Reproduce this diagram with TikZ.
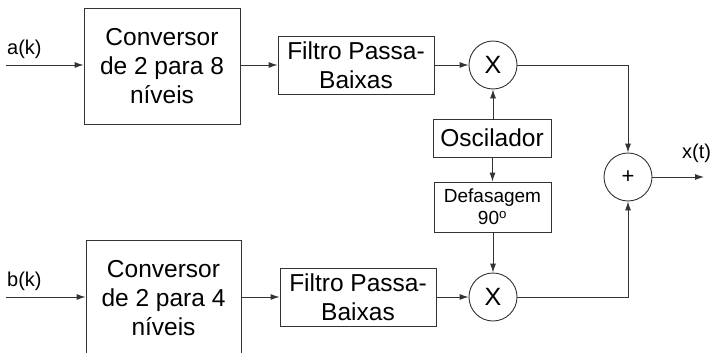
\documentclass[tikz,border=0pt]{standalone}
\usepackage{fontspec}
\setmainfont{Liberation Sans}
\usetikzlibrary{arrows.meta}
\tikzset{
  blk/.style={draw=black!80, line width=0.9pt, align=center, inner sep=0pt,
    font=\fontsize{24.5}{29}\selectfont},
  mul/.style={draw=black!80, line width=0.9pt, circle, minimum size=48pt, inner sep=0pt,
    font=\fontsize{25}{26}\selectfont},
  lbl/.style={font=\fontsize{20}{22}\selectfont, inner sep=0pt},
  conn/.style={draw=black!80, line width=0.9pt, -{Latex[length=9pt,width=6pt]}},
  wire/.style={draw=black!80, line width=0.9pt}
}
\begin{document}
\begin{tikzpicture}[x=1pt,y=-1pt]
\useasboundingbox (0,0) rectangle (717,353);
\begin{scope}
\clip (0,0) rectangle (717,353);
\node[blk, minimum width=156pt, minimum height=116pt] (conv1) at (162,66) {Conversor\\de 2 para 8\\níveis};
\node[blk, minimum width=156pt, minimum height=58pt] (filt1) at (356,65) {Filtro Passa-\\Baixas};
\node[mul] (mul1) at (493,65) {X};
\node[blk, minimum width=118pt, minimum height=38pt] (osc) at (492,138) {Oscilador};
\node[blk, minimum width=117pt, minimum height=50pt, font=\fontsize{19}{22}\selectfont] (def) at (492.5,207) {Defasagem\\90$^{\mathrm{o}}$};
\node[mul] (mul2) at (493,297) {X};
\node[blk, minimum width=156pt, minimum height=58pt] (filt2) at (358,297) {Filtro Passa-\\Baixas};
\node[blk, minimum width=155pt, minimum height=116pt] (conv2) at (163.5,298) {Conversor\\de 2 para 4\\níveis};
\node[mul, font=\fontsize{22}{24}\selectfont] (sum) at (628,177) {+};

\coordinate (ain) at (6,65);
\coordinate (bin) at (6,297);
\coordinate (xout) at (704,177);
\node[lbl, anchor=west] (alab) at (7,49) {a(k)};
\node[lbl, anchor=west] (blab) at (7,281) {b(k)};
\node[lbl, anchor=west] (xlab) at (682,153) {x(t)};

\draw[conn] (ain) -- (conv1.west |- ain);
\draw[conn] (bin) -- (conv2.west |- bin);
\draw[conn] (conv1.east |- filt1) -- (filt1.west);
\draw[conn] (conv2.east |- filt2) -- (filt2.west);
\draw[conn] (filt1.east) -- (mul1.west);
\draw[conn] (filt2.east) -- (mul2.west);
\draw[conn] (osc.north -| mul1) -- (mul1.south);
\draw[conn] (osc.south -| def) -- (def.north);
\draw[conn] (def.south -| mul2) -- (mul2.north);
\draw[conn] (mul1.east) -| (sum.north);
\draw[conn] (mul2.east) -| (sum.south);
\draw[conn] (sum.east) -- (xout);
\end{scope}
\end{tikzpicture}
\end{document}
